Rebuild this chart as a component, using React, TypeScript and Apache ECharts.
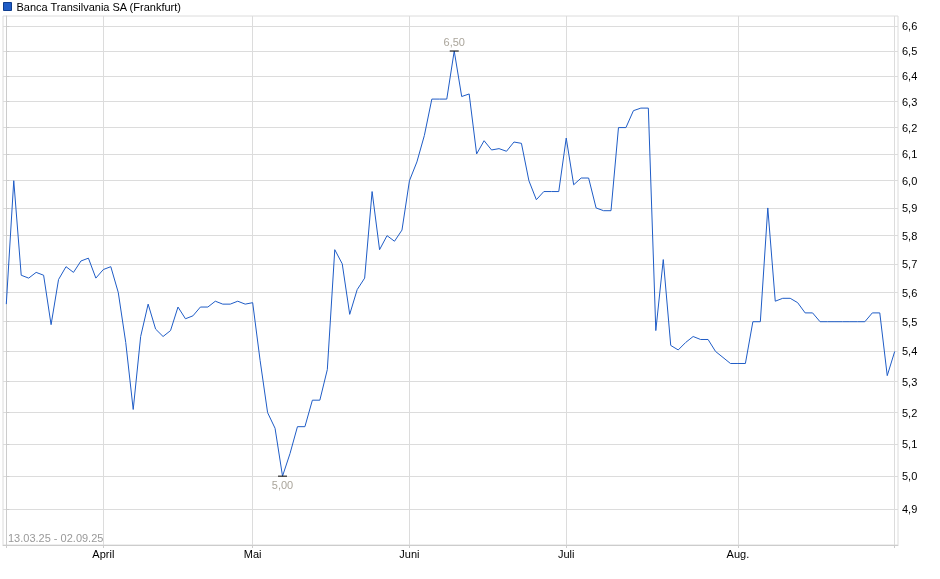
import React, { useEffect, useRef } from 'react';
import * as echarts from 'echarts';

// one point per trading day, 13.03.25 .. 02.09.25
const PRICES = [
  5.56, 6.0, 5.66, 5.65, 5.67, 5.66, 5.49, 5.645, 5.69, 5.67,
  5.71, 5.72, 5.65, 5.68, 5.69, 5.6, 5.43, 5.21, 5.45, 5.56,
  5.475, 5.45, 5.47, 5.55, 5.51, 5.52, 5.55, 5.55, 5.57, 5.56,
  5.56, 5.57, 5.56, 5.565, 5.37, 5.2, 5.15, 5.0, 5.07, 5.155,
  5.155, 5.24, 5.24, 5.34, 5.75, 5.7, 5.525, 5.61, 5.65, 5.96,
  5.75, 5.8, 5.78, 5.82, 6.0, 6.07, 6.17, 6.31, 6.31, 6.31,
  6.5, 6.32, 6.33, 6.1, 6.15, 6.115, 6.12, 6.11, 6.145, 6.14,
  6.0, 5.93, 5.96, 5.96, 5.96, 6.16, 5.985, 6.01, 6.01, 5.9,
  5.89, 5.89, 6.2, 6.2, 6.265, 6.275, 6.275, 5.47, 5.715, 5.42,
  5.405, 5.43, 5.45, 5.44, 5.44, 5.4, 5.38, 5.36, 5.36, 5.36,
  5.5, 5.5, 5.9, 5.57, 5.58, 5.58, 5.565, 5.53, 5.53, 5.5,
  5.5, 5.5, 5.5, 5.5, 5.5, 5.5, 5.53, 5.53, 5.32, 5.4,
];

// index of the first trading day of each month
const MONTH_STARTS = [13, 33, 54, 75, 98];
const MONTH_LABELS = ['April', 'Mai', 'Juni', 'Juli', 'Aug.'];

const Y_TICKS = [4.9, 5.0, 5.1, 5.2, 5.3, 5.4, 5.5, 5.6, 5.7, 5.8, 5.9, 6.0, 6.1, 6.2, 6.3, 6.4, 6.5, 6.6];

const SERIES_NAME = 'Banca Transilvania SA (Frankfurt)';
const RANGE_LABEL = '13.03.25 - 02.09.25';

const FONT = "'Liberation Sans', Arial, sans-serif";
const GRID_COLOR = '#dcdcdc';
const LINE_COLOR = '#1f5cc6';

const App = function () {
  const chartDom = useRef<HTMLDivElement>(null);

  useEffect(() => {
    const chart = echarts.init(chartDom.current!, null, { renderer: 'svg' });
    const last = PRICES.length - 1;

    chart.setOption({
      animation: false,
      textStyle: { fontFamily: FONT, fontSize: 11 },
      legend: {
        data: [SERIES_NAME],
        left: 3,
        top: 1,
        padding: 0,
        icon: 'rect',
        itemWidth: 8,
        itemHeight: 8,
        itemStyle: { borderColor: '#0e3d8f', borderWidth: 1 },
        textStyle: { color: '#000', fontSize: 11, fontFamily: FONT },
      },
      grid: {
        left: 3,
        right: 42,
        top: 16,
        bottom: 34,
        show: true,
        borderColor: GRID_COLOR,
        borderWidth: 1,
        outerBoundsMode: 'none',
      },
      xAxis: {
        type: 'value',
        min: -0.44,
        max: last + 0.44,
        axisLine: { show: true, lineStyle: { color: '#cccccc' } },
        axisTick: {
          show: true,
          length: 3,
          customValues: [0, ...MONTH_STARTS, last],
          lineStyle: { color: '#cccccc' },
        },
        axisLabel: {
          customValues: MONTH_STARTS,
          margin: 3,
          color: '#000',
          fontSize: 11,
          fontFamily: FONT,
          formatter: (v: number) => MONTH_LABELS[MONTH_STARTS.indexOf(Math.round(v))] ?? '',
        },
        splitLine: { show: true, lineStyle: { color: GRID_COLOR, width: 1 } },
      },
      yAxis: {
        type: 'log',
        position: 'right',
        min: 4.792,
        max: 6.642,
        axisLine: { show: true, lineStyle: { color: '#cccccc' } },
        axisTick: {
          show: true,
          length: 3,
          customValues: Y_TICKS,
          lineStyle: { color: '#cccccc' },
        },
        axisLabel: {
          customValues: Y_TICKS,
          margin: 4,
          color: '#000',
          fontSize: 11,
          fontFamily: FONT,
          formatter: (v: number) => v.toFixed(1).replace('.', ','),
        },
        splitLine: { show: true, lineStyle: { color: GRID_COLOR, width: 1 } },
      },
      graphic: [
        {
          type: 'text',
          left: 8,
          top: 532,
          style: { text: RANGE_LABEL, fill: '#999999', font: `11px ${FONT}` },
        },
      ],
      series: [
        {
          name: SERIES_NAME,
          type: 'line',
          data: PRICES.map((p, i) => [i, p]),
          symbol: 'none',
          lineStyle: { color: LINE_COLOR, width: 1 },
          itemStyle: { color: LINE_COLOR },
          markPoint: {
            symbol: 'rect',
            symbolSize: [9, 1],
            itemStyle: { color: '#000' },
            label: {
              color: '#aaa59b',
              fontSize: 11,
              fontFamily: FONT,
              distance: 3,
              formatter: (p: any) => Number(p.value).toFixed(2).replace('.', ','),
            },
            data: [
              { type: 'max', valueDim: 'y', label: { position: 'top' } },
              { type: 'min', valueDim: 'y', label: { position: 'bottom' } },
            ],
          },
        },
      ],
    });

    return () => {
      chart.dispose();
    };
  }, []);

  return (
    <div
      ref={chartDom}
      style={{ position: 'fixed', left: 0, top: 0, width: 940, height: 579 }}
    />
  );
};

export default App;
